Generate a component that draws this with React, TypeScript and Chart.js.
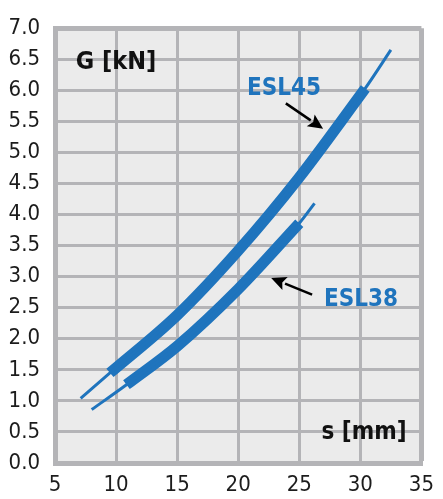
import React, { useEffect, useRef } from "react";
import { Chart, registerables } from "chart.js";

Chart.register(...registerables);

// ---- data ----
const xTicks = [5, 10, 15, 20, 25, 30, 35];
const yTicks = [0, 0.5, 1, 1.5, 2, 2.5, 3, 3.5, 4, 4.5, 5, 5.5, 6, 6.5, 7];

const esl45X = [7.1, 9.5, 15, 20, 25, 30.4, 32.5];
const esl45Y = [1.04, 1.45, 2.38, 3.42, 4.6, 6.03, 6.65];
const esl45ThickFrom = 1;
const esl45ThickTo = 5;

const esl38X = [8.0, 10.85, 15, 20, 25.0, 26.25];
const esl38Y = [0.86, 1.26, 1.88, 2.8, 3.86, 4.18];
const esl38ThickFrom = 1;
const esl38ThickTo = 4;

const seriesNames = ["ESL45", "ESL38"];
const yTitle = "G [kN]";
const xTitle = "s [mm]";

// annotation anchors in data units
const labelAnchors = [
  { text: seriesNames[0], x: 23.75, y: 6.03 },
  { text: seriesNames[1], x: 30.06, y: 2.63 },
];
const arrows = [
  { x0: 23.9, y0: 5.79, x1: 26.95, y1: 5.38 },
  { x0: 26.05, y0: 2.71, x1: 22.7, y1: 2.98 },
];

const BLUE = "#1f74bd";
const GRID = "#b4b4b7";
const BG = "#ebebeb";
const TEXT = "#1c1c1c";
const FONT = "'Liberation Sans Narrow', 'DejaVu Sans Condensed', 'Noto Sans', sans-serif";

function pts(xs: number[], ys: number[], from = 0, to = xs.length - 1) {
  const out: { x: number; y: number }[] = [];
  for (let i = from; i <= to; i++) out.push({ x: xs[i], y: ys[i] });
  return out;
}

const bgPlugin = {
  id: "bgPlugin",
  beforeDraw(chart: any) {
    const { ctx, chartArea } = chart;
    ctx.save();
    ctx.fillStyle = BG;
    ctx.fillRect(chartArea.left, chartArea.top, chartArea.right - chartArea.left, chartArea.bottom - chartArea.top);
    ctx.restore();
  },
};

const annoPlugin = {
  id: "annoPlugin",
  afterDatasetsDraw(chart: any) {
    const { ctx } = chart;
    const xs = chart.scales.x;
    const ys = chart.scales.y;
    const px = (v: number) => xs.getPixelForValue(v);
    const py = (v: number) => ys.getPixelForValue(v);
    ctx.save();
    // axis titles
    ctx.fillStyle = "#111";
    ctx.textBaseline = "middle";
    ctx.font = `bold 25px ${FONT}`;
    ctx.textAlign = "left";
    ctx.fillText(yTitle, px(6.7), py(6.45));
    ctx.font = `bold 24px ${FONT}`;
    ctx.textAlign = "center";
    ctx.fillText(xTitle, px(30.3), py(0.48));
    // series labels
    ctx.fillStyle = BLUE;
    for (const l of labelAnchors) {
      ctx.fillText(l.text, px(l.x), py(l.y));
    }
    // arrows
    ctx.strokeStyle = "#000";
    ctx.fillStyle = "#000";
    ctx.lineWidth = 2.5;
    for (const a of arrows) {
      const x0 = px(a.x0), y0 = py(a.y0), x1 = px(a.x1), y1 = py(a.y1);
      const ang = Math.atan2(y1 - y0, x1 - x0);
      const hl = 15, hw = 7;
      const bx = x1 - hl * Math.cos(ang), by = y1 - hl * Math.sin(ang);
      ctx.beginPath();
      ctx.moveTo(x0, y0);
      ctx.lineTo(bx, by);
      ctx.stroke();
      ctx.beginPath();
      ctx.moveTo(x1, y1);
      ctx.lineTo(bx + hw * Math.sin(ang), by - hw * Math.cos(ang));
      ctx.lineTo(bx + 3 * Math.cos(ang), by + 3 * Math.sin(ang));
      ctx.lineTo(bx - hw * Math.sin(ang), by + hw * Math.cos(ang));
      ctx.closePath();
      ctx.fill();
    }
    ctx.restore();
  },
};

export default function App() {
  const ref = useRef<HTMLCanvasElement | null>(null);
  useEffect(() => {
    document.body.style.margin = "0";
    const canvas = ref.current;
    if (!canvas) return;
    const thin = { borderColor: BLUE, borderWidth: 3, pointRadius: 0, fill: false, cubicInterpolationMode: "monotone" as const, borderCapStyle: "butt" as const };
    const thick = { ...thin, borderWidth: 11 };
    const chart = new Chart(canvas, {
      type: "line",
      data: {
        datasets: [
          { ...thin, label: seriesNames[0], data: pts(esl45X, esl45Y) },
          { ...thick, label: seriesNames[0] + " range", data: pts(esl45X, esl45Y, esl45ThickFrom, esl45ThickTo) },
          { ...thin, label: seriesNames[1], data: pts(esl38X, esl38Y) },
          { ...thick, label: seriesNames[1] + " range", data: pts(esl38X, esl38Y, esl38ThickFrom, esl38ThickTo) },
        ],
      },
      options: {
        responsive: false,
        animation: false,
        layout: { padding: { top: 22, right: 12, left: 0, bottom: 0 } },
        plugins: { legend: { display: false }, tooltip: { enabled: false } },
        scales: {
          x: {
            type: "linear",
            min: 5,
            max: 35,
            afterBuildTicks: (s: any) => { s.ticks = xTicks.map((v) => ({ value: v })); },
            afterFit: (s: any) => { s.height = 36; },
            ticks: { color: TEXT, font: { family: FONT, size: 22 }, padding: 9, maxRotation: 0, autoSkip: false },
            grid: { color: GRID, lineWidth: (c: any) => (c.tick && c.tick.value === 35 ? 5 : 3), drawTicks: false },
            border: { color: GRID, width: 5 },
          },
          y: {
            min: 0,
            max: 7,
            afterBuildTicks: (s: any) => { s.ticks = yTicks.map((v) => ({ value: v })); },
            afterFit: (s: any) => { s.width = 55; },
            ticks: { color: TEXT, font: { family: FONT, size: 22 }, padding: 15, autoSkip: false, callback: (v: any) => Number(v).toFixed(1) },
            grid: { color: GRID, lineWidth: (c: any) => (c.tick && c.tick.value === 7 ? 5 : 3), drawTicks: false },
            border: { color: GRID, width: 5 },
          },
        },
      },
      plugins: [bgPlugin, annoPlugin],
    });
    return () => chart.destroy();
  }, []);
  return <canvas ref={ref} width={443} height={499} style={{ display: "block" }} />;
}
